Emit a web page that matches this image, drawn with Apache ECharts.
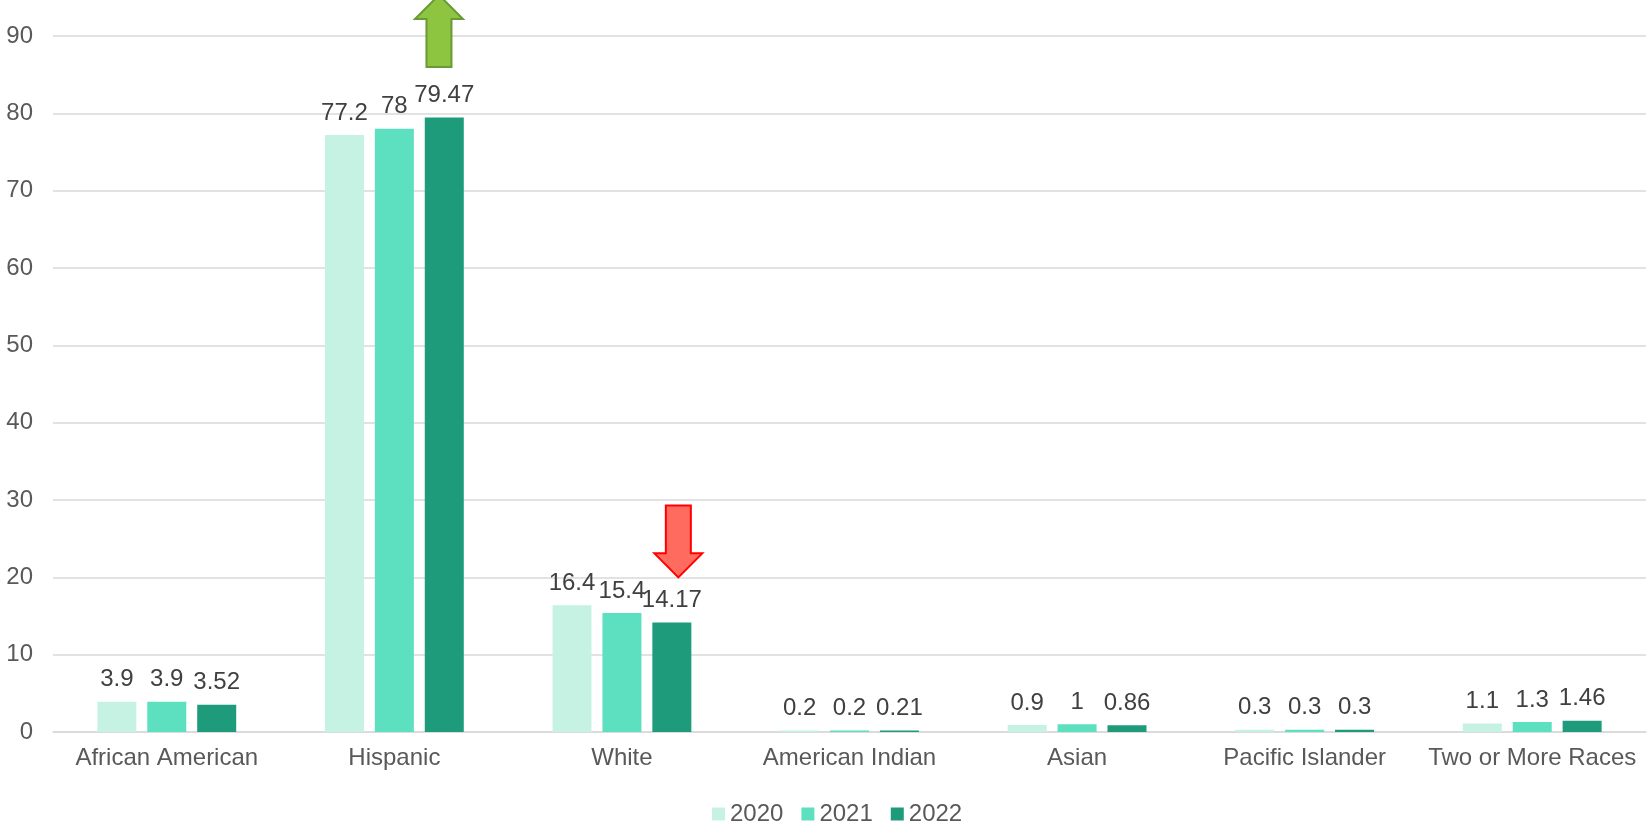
<!DOCTYPE html>
<html>
<head>
<meta charset="utf-8">
<script src="https://cdn.jsdelivr.net/npm/echarts@6/dist/echarts.min.js"></script>
<style>
html,body{margin:0;padding:0;background:#fff;}
#chart{width:1647px;height:821px;}
</style>
</head>
<body>
<div id="chart"></div>
<script>
const categories = ['African American','Hispanic','White','American Indian','Asian','Pacific Islander','Two or More Races'];
const seriesNames = ['2020','2021','2022'];
const values2020 = [3.9, 77.2, 16.4, 0.2, 0.9, 0.3, 1.1];
const values2021 = [3.9, 78, 15.4, 0.2, 1, 0.3, 1.3];
const values2022 = [3.52, 79.47, 14.17, 0.21, 0.86, 0.3, 1.46];
const yTicks = [0,10,20,30,40,50,60,70,80,90];
// annotation arrows: category, start value, end value
const arrows = [
  {cat:'Hispanic', from:86.0, to:95.3, dx:44.6, fill:'#8DC440', stroke:'#6A9A35'},
  {cat:'White', from:29.3, to:20.0, dx:56.4, fill:'#FF6B5E', stroke:'#FF0000'}
];

const colors = ['#C6F2E4','#5CE0BF','#1E9B7A'];
const dataSets = [values2020, values2021, values2022];
const FONT = 'Liberation Sans, Arial, sans-serif';

const chart = echarts.init(document.getElementById('chart'), null, {renderer:'canvas'});
const option = {
  animation:false,
  backgroundColor:'#fff',
  grid:{left:53, right:1, top:36, bottom:89, containLabel:false},
  legend:{
    data:seriesNames, left:707, top:797, icon:'rect', itemWidth:13, itemHeight:13, itemGap:18,
    textStyle:{fontSize:24, color:'#595959', fontFamily:FONT}
  },
  xAxis:{
    type:'category', data:categories,
    axisLine:{lineStyle:{color:'#D9D9D9', width:1.5}},
    axisTick:{show:false},
    axisLabel:{fontSize:24, color:'#595959', fontFamily:FONT, margin:14, interval:0}
  },
  yAxis:{
    type:'value', min:yTicks[0], max:yTicks[yTicks.length-1], interval:10,
    axisLine:{show:false}, axisTick:{show:false},
    axisLabel:{fontSize:24, color:'#595959', fontFamily:FONT, margin:20},
    splitLine:{lineStyle:{color:'#D9D9D9', width:1.5}}
  },
  series: seriesNames.map((n,i)=>({
    name:n, type:'bar', data:dataSets[i], barWidth:39, barGap:'28%',
    itemStyle:{color:colors[i]},
    label:{show:true, position:'top', distance:10, fontSize:24, color:'#404040', fontFamily:FONT}
  }))
};
chart.setOption(option);

function arrowPoints(cx, y0, y1){
  const head = 48, shaft = 25, headLen = 24;
  const dir = y1 < y0 ? -1 : 1;
  const hb = y1 - dir*headLen;
  return [
    [cx - shaft/2, y0], [cx + shaft/2, y0], [cx + shaft/2, hb], [cx + head/2, hb],
    [cx, y1], [cx - head/2, hb], [cx - shaft/2, hb]
  ];
}
const graphics = arrows.map(a=>{
  const p0 = chart.convertToPixel({gridIndex:0}, [a.cat, a.from]);
  const p1 = chart.convertToPixel({gridIndex:0}, [a.cat, a.to]);
  return {
    type:'polygon', z:100,
    shape:{points:arrowPoints(p0[0]+a.dx, p0[1], p1[1])},
    style:{fill:a.fill, stroke:a.stroke, lineWidth:2}
  };
});
chart.setOption({graphic:graphics});
</script>
</body>
</html>
